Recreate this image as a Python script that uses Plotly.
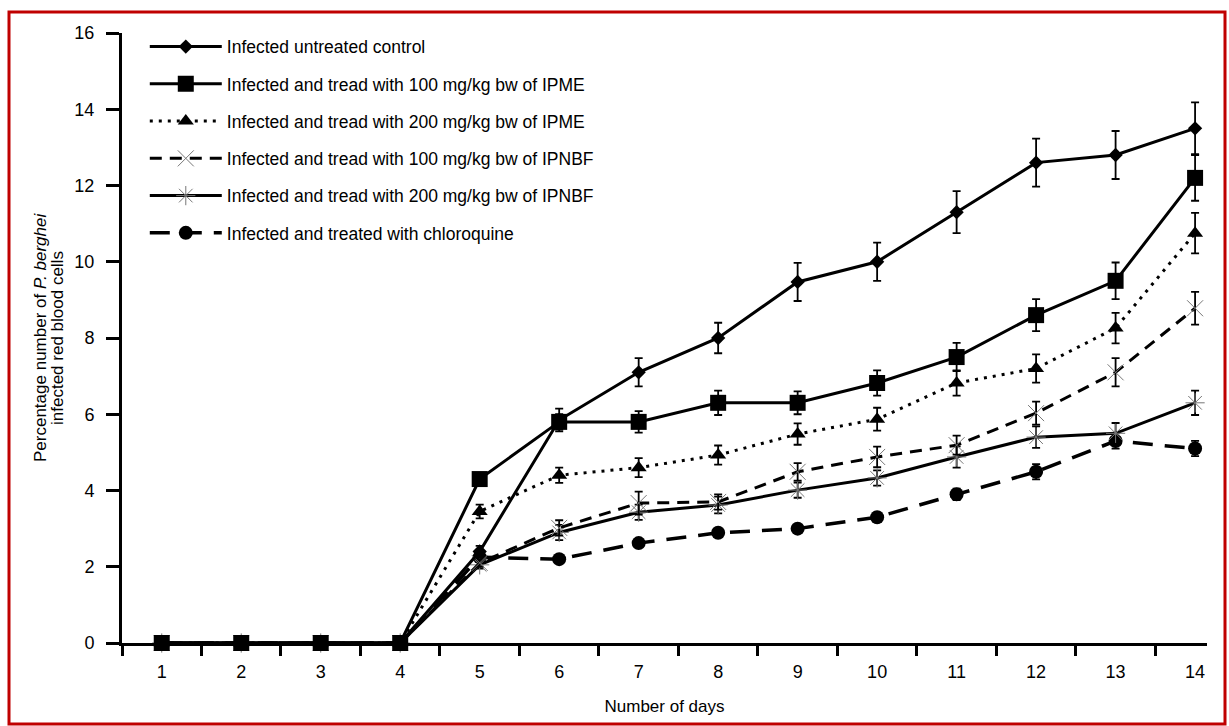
import plotly.graph_objects as go

days = list(range(1, 15))
day_labels = [str(d) for d in days]

control = [0, 0, 0, 0, 2.4, 5.85, 7.1, 8.0, 9.47, 10.0, 11.3, 12.6, 12.8, 13.5]
control_err = [0, 0, 0, 0, 0.15, 0.3, 0.37, 0.4, 0.5, 0.5, 0.55, 0.63, 0.63, 0.68]

ipme100 = [0, 0, 0, 0, 4.3, 5.8, 5.8, 6.3, 6.3, 6.82, 7.5, 8.6, 9.5, 12.2]
ipme100_err = [0, 0, 0, 0, 0.1, 0.2, 0.28, 0.32, 0.3, 0.33, 0.37, 0.42, 0.48, 0.6]

ipme200 = [0, 0, 0, 0, 3.45, 4.4, 4.6, 4.93, 5.48, 5.87, 6.82, 7.2, 8.26, 10.75]
ipme200_err = [0, 0, 0, 0, 0.18, 0.2, 0.25, 0.25, 0.28, 0.3, 0.33, 0.37, 0.4, 0.53]

ipnbf100 = [0, 0, 0, 0, 2.1, 3.02, 3.67, 3.7, 4.49, 4.88, 5.19, 6.03, 7.1, 8.78]
ipnbf100_err = [0, 0, 0, 0, 0.1, 0.2, 0.3, 0.2, 0.23, 0.27, 0.25, 0.3, 0.37, 0.43]

ipnbf200 = [0, 0, 0, 0, 2.05, 2.9, 3.43, 3.62, 4.01, 4.33, 4.88, 5.4, 5.5, 6.3]
ipnbf200_err = [0, 0, 0, 0, 0.1, 0.2, 0.2, 0.22, 0.2, 0.2, 0.28, 0.28, 0.27, 0.32]

chloroquine = [0, 0, 0, 0, 2.25, 2.2, 2.62, 2.89, 3.0, 3.3, 3.9, 4.49, 5.3, 5.1]
chloroquine_err = [0, 0, 0, 0, 0.1, 0.1, 0.1, 0.1, 0.1, 0.12, 0.15, 0.2, 0.2, 0.2]

names = [
    "Infected untreated control",
    "Infected and tread with 100 mg/kg bw of IPME",
    "Infected and tread with 200 mg/kg bw of IPME",
    "Infected and tread with 100 mg/kg bw of IPNBF",
    "Infected and tread with 200 mg/kg bw of IPNBF",
    "Infected and treated with chloroquine",
]

y_ticks = list(range(0, 17, 2))
boundary_ticks = [d - 0.5 for d in days]

FONT = "Liberation Sans, Arial, sans-serif"

series = [
    (chloroquine, chloroquine_err, 5, "circle", 14, "black", 3.5, "20px,12px", None),
    (ipnbf200, ipnbf200_err, 4, "asterisk", 16, "#888888", 3, "solid", dict(color="#777777", width=1)),
    (ipnbf100, ipnbf100_err, 3, "x-thin", 16, "#888888", 3, "12px,8px", dict(color="#777777", width=1)),
    (ipme200, ipme200_err, 2, "triangle-up", 14, "black", 3, "3px,6px", None),
    (control, control_err, 0, "diamond", 11, "black", 3, "solid", None),
    (ipme100, ipme100_err, 1, "square", 16, "black", 3, "solid", None),
]

fig = go.Figure()
for vals, errs, idx, sym, size, mcol, lw, dash, mline in series:
    marker = dict(symbol=sym, size=size, color=mcol)
    if mline is not None:
        marker["line"] = mline
    fig.add_trace(go.Scatter(
        x=days, y=vals, name=names[idx], mode="lines+markers",
        line=dict(color="black", width=lw, dash=dash),
        marker=marker,
        error_y=dict(type="data", array=errs, visible=True, color="black",
                     thickness=1.8, width=4),
        cliponaxis=False,
        legendrank=idx + 1,
        legendgroup=f"g{idx}",
    ))

fig.update_layout(
    width=1229, height=726,
    margin=dict(l=122, r=22, t=33, b=83),
    paper_bgcolor="white", plot_bgcolor="white",
    font=dict(family=FONT, size=18, color="black"),
    showlegend=True,
    legend=dict(
        x=0.021, y=1.007, xanchor="left", yanchor="top",
        bgcolor="rgba(0,0,0,0)", borderwidth=0,
        font=dict(size=17.5, family=FONT),
        tracegroupgap=11.5, traceorder="grouped",
        itemwidth=72,
    ),
    xaxis=dict(
        range=[0.5, 14.15], tickmode="array", tickvals=days, ticktext=day_labels,
        ticks="", showgrid=False, zeroline=False,
        showline=True, linecolor="black", linewidth=3,
        ticklabelstandoff=10,
        minor=dict(tickmode="array", tickvals=boundary_ticks, ticks="outside",
                   ticklen=10, tickwidth=2.5, tickcolor="black", showgrid=False),
        title=dict(text="Number of days", font=dict(size=17), standoff=20),
        tickfont=dict(size=18),
    ),
    yaxis=dict(
        range=[0, 16], tickmode="array", tickvals=y_ticks,
        ticks="outside", ticklen=13, tickwidth=3, tickcolor="black",
        showgrid=False, zeroline=False,
        showline=True, linecolor="black", linewidth=3,
        ticklabelstandoff=8,
        tickfont=dict(size=18),
    ),
    shapes=[dict(type="rect", xref="paper", yref="paper",
                 x0=(9 - 122) / 1085, x1=(1225 - 122) / 1085,
                 y0=(643 - 724) / 610, y1=(643 - 12) / 610,
                 line=dict(color="#C00000", width=3), fillcolor="rgba(0,0,0,0)",
                 layer="below")],
    annotations=[
        dict(text="Percentage number of <i>P. berghei</i>", xref="paper", yref="paper",
             x=(40 - 122) / 1085, y=0.5, textangle=-90, showarrow=False,
             xanchor="center", yanchor="middle", font=dict(size=17)),
        dict(text="infected red blood cells", xref="paper", yref="paper",
             x=(57 - 122) / 1085, y=0.5, textangle=-90, showarrow=False,
             xanchor="center", yanchor="middle", font=dict(size=17)),
    ],
)

fig.write_html("out.html", config={"displayModeBar": False},
               post_script="document.body.style.margin='0';document.body.style.overflow='hidden';")
